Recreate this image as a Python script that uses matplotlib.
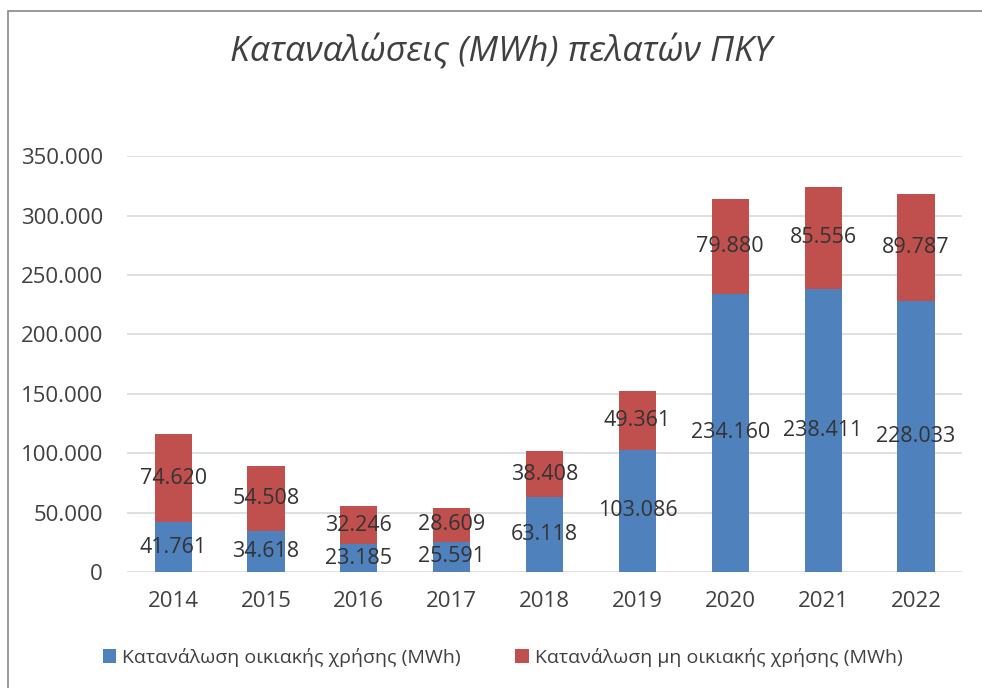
import matplotlib.pyplot as plt
from matplotlib.patches import Rectangle
from matplotlib.ticker import FuncFormatter

years = ['2014', '2015', '2016', '2017', '2018', '2019', '2020', '2021', '2022']
residential = [41761, 34618, 23185, 25591, 63118, 103086, 234160, 238411, 228033]
non_residential = [74620, 54508, 32246, 28609, 38408, 49361, 79880, 85556, 89787]
yticks = [0, 50000, 100000, 150000, 200000, 250000, 300000, 350000]

blue = '#4F81BD'
red = '#C0504D'
text_col = '#404040'


def fmt(v, pos=None):
    return f'{int(v):,}'.replace(',', '.')


plt.rcParams['font.family'] = ['Open Sans', 'DejaVu Sans']

fig = plt.figure(figsize=(9.82, 6.88), dpi=100)
ax = fig.add_axes([0.129, 0.1686, 0.851, 0.6044])

x = range(len(years))
b1 = ax.bar(x, residential, width=0.4, color=blue, label='Κατανάλωση οικιακής χρήσης (MWh)', zorder=3)
b2 = ax.bar(x, non_residential, width=0.4, bottom=residential, color=red,
            label='Κατανάλωση μη οικιακής χρήσης (MWh)', zorder=3)

ax.bar_label(b1, labels=[fmt(v) for v in residential], label_type='center', fontsize=15.5, color='#333333')
ax.bar_label(b2, labels=[fmt(v) for v in non_residential], label_type='center', fontsize=15.5, color='#333333')

ax.set_xlim(-0.5, len(years) - 0.5)
ax.set_ylim(0, 350000)
ax.set_yticks(yticks)
ax.yaxis.set_major_formatter(FuncFormatter(fmt))
ax.set_xticks(list(x))
ax.set_xticklabels(years)
ax.tick_params(axis='both', length=0, labelsize=16, labelcolor=text_col)
ax.tick_params(axis='y', pad=17)
ax.tick_params(axis='x', pad=14)
ax.grid(axis='y', color='#D9D9D9', linewidth=1.2, zorder=0)
for s in ax.spines.values():
    s.set_visible(False)

fig.text(0.51, 0.927, 'Καταναλώσεις (MWh) πελατών ΠΚΥ', ha='center', va='center',
         fontsize=25.5, style='italic', color=text_col)

ax.legend(loc='center', bbox_to_anchor=(0.45, -0.205), ncol=2, frameon=False,
          fontsize=14, labelcolor=text_col, handlelength=0.7, handleheight=0.7,
          handletextpad=0.3, columnspacing=2.8)

fig.patches.append(Rectangle((8 / 982, -0.1), 1.2, 1.1 - 11 / 688, transform=fig.transFigure,
                             fill=False, edgecolor='#898989', linewidth=1.2))

fig.savefig('out.png', dpi=100)
